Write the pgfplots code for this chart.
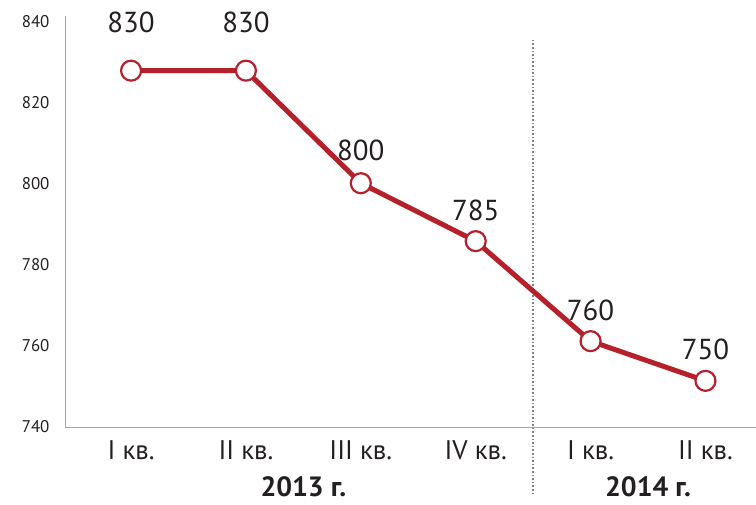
\documentclass[border=0pt]{standalone}
\usepackage{pgfplots}
\pgfplotsset{compat=1.18}
\usepackage{pgfplotstable}
\usepackage{fontspec}
\setmainfont{PT Sans}
\definecolor{linered}{HTML}{B5202A}
\definecolor{axisgrey}{HTML}{A6A6A6}
\definecolor{txt}{HTML}{231F20}
\pgfplotstableread{
x y label dy
0 828.0 830 48
1 828.0 830 48
2 800.2 800 33
3 785.9 785 31
4 761.2 760 31
5 751.4 750 31
}\prices
\begin{document}
\begin{tikzpicture}
\path[use as bounding box] (0,0) rectangle (756bp,505bp);
\begin{axis}[
  at={(65bp,78bp)}, anchor=south west,
  scale only axis, width=691bp, height=411bp,
  xmin=-0.575, xmax=5.44, ymin=740, ymax=841.5,
  axis x line*=bottom, axis y line*=left,
  axis line style={axisgrey, line width=1bp, -},
  clip=false,
  ytick={740,760,...,840},
  xtick={0,...,5},
  xticklabels={I кв.,II кв.,III кв.,IV кв.,I кв.,II кв.},
  major tick length=0pt,
  tick style={draw=none},
  /pgf/number format/assume math mode=true,
  yticklabel style={font=\fontsize{17}{20}\selectfont, text=txt, xshift=-12bp},
  xticklabel style={font=\fontsize{27}{30}\selectfont, text=txt, yshift=-10bp},
]
\draw[gray, dotted, line width=1.6bp] (axis cs:3.5,835.6) -- (axis cs:3.5,723.2);
\addplot[linered, line width=5bp, mark=*, mark size=10bp,
  mark options={fill=white, draw=linered, line width=2.2bp},
  point meta=explicit symbolic,
  visualization depends on={\thisrow{dy} \as \dy},
  nodes near coords,
  every node near coord/.append style={anchor=center, yshift=\dy bp, font=\fontsize{29}{32}\selectfont, text=txt}
] table[x=x, y=y, meta=label] {\prices};
\node[font=\bfseries\fontsize{28}{30}\selectfont, text=txt, inner sep=1bp] at (axis cs:1.5,725.2) {2013 г.};
\node[font=\bfseries\fontsize{28}{30}\selectfont, text=txt, inner sep=1bp] at (axis cs:4.5,725.2) {2014 г.};
\end{axis}
\end{tikzpicture}
\end{document}
